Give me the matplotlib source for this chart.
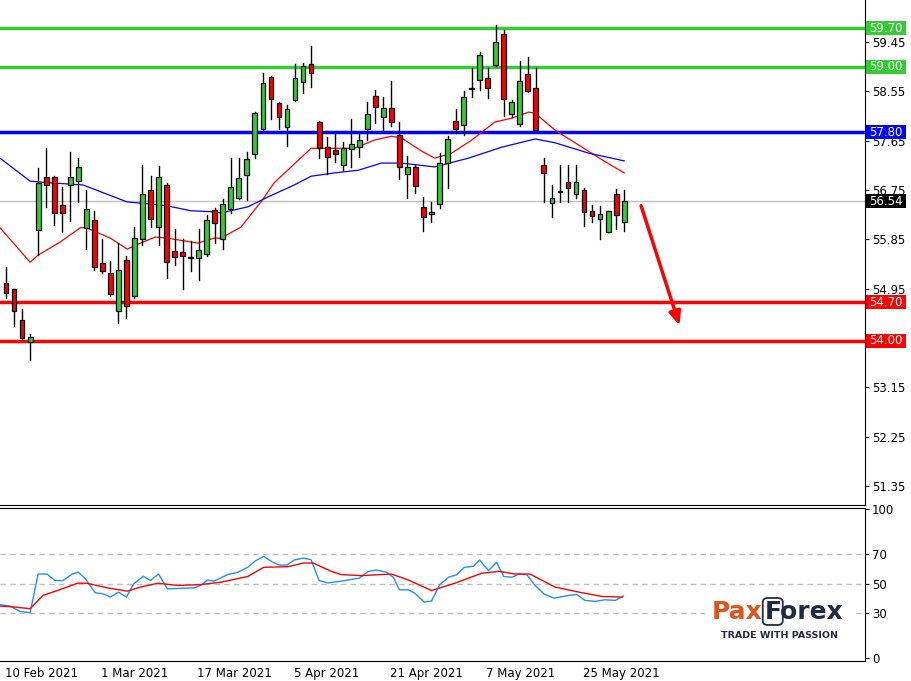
import matplotlib
matplotlib.use("Agg")
import matplotlib.pyplot as plt
from matplotlib.patches import Rectangle, FancyBboxPatch
from matplotlib.transforms import blended_transform_factory

# ── candles (open, high, low, close), one per trading day from 10 Feb 2021 ──
opens  = [55.05, 54.94, 54.38, 53.97, 56.02, 56.99, 56.99, 56.48, 56.84, 56.91,
          56.06, 56.20, 55.42, 55.23, 54.54, 55.47, 54.81, 55.85, 56.75, 56.07,
          56.84, 55.64, 55.62, 55.51, 55.51, 55.58, 56.38, 55.85, 56.40, 56.60,
          57.02, 57.41, 57.86, 58.81, 58.34, 57.90, 58.39, 58.72, 59.05, 57.99,
          57.53, 57.48, 57.20, 57.50, 57.53, 57.86, 58.46, 58.08, 58.25, 57.75,
          57.04, 57.17, 56.44, 56.31, 56.49, 57.24, 58.01, 57.94, 58.59, 58.76,
          58.79, 59.03, 59.60, 58.13, 57.95, 58.87, 58.61, 57.20, 56.51, 56.71,
          56.89, 56.67, 56.75, 56.37, 56.22, 55.98, 56.68, 56.17]
highs  = [55.34, 54.94, 54.58, 54.12, 57.15, 57.51, 57.00, 56.80, 57.44, 57.33,
          56.75, 56.37, 55.85, 55.45, 55.78, 55.54, 56.07, 57.20, 57.00, 57.19,
          56.87, 56.04, 55.85, 55.82, 56.04, 56.29, 56.42, 56.58, 57.33, 57.33,
          57.44, 58.17, 58.88, 58.83, 58.35, 58.30, 59.05, 59.07, 59.38, 58.00,
          57.72, 57.79, 57.62, 58.04, 57.79, 58.35, 58.57, 58.45, 58.74, 57.99,
          57.37, 57.20, 56.62, 56.53, 57.42, 57.73, 58.23, 58.56, 58.97, 59.27,
          58.97, 59.76, 59.67, 58.39, 59.10, 59.18, 58.97, 57.33, 56.84, 57.20,
          57.20, 57.20, 56.79, 56.48, 56.46, 56.37, 56.77, 56.75]
lows   = [54.78, 54.27, 54.03, 53.65, 55.56, 56.44, 56.11, 55.98, 56.18, 56.53,
          55.67, 55.29, 55.23, 54.81, 54.32, 54.41, 54.78, 55.75, 56.07, 55.75,
          55.14, 55.38, 54.94, 55.27, 55.11, 55.54, 55.78, 55.67, 56.33, 56.58,
          56.57, 57.33, 57.84, 58.04, 57.86, 57.55, 58.37, 58.52, 58.63, 57.33,
          57.04, 57.26, 57.11, 57.17, 57.35, 57.66, 57.97, 57.84, 57.92, 56.95,
          56.60, 56.69, 56.00, 56.17, 56.42, 56.79, 57.79, 57.75, 58.45, 58.57,
          58.43, 59.01, 58.10, 58.08, 57.92, 58.54, 57.84, 56.53, 56.26, 56.53,
          56.53, 56.60, 56.09, 56.17, 55.85, 55.98, 56.04, 56.00]
closes = [54.87, 54.54, 54.05, 54.07, 56.88, 56.84, 56.33, 56.33, 56.99, 57.17,
          56.40, 55.34, 55.27, 54.85, 55.29, 54.63, 55.87, 56.68, 56.22, 56.99,
          55.43, 55.53, 55.55, 55.53, 55.65, 56.20, 56.15, 56.49, 56.80, 56.97,
          57.31, 58.15, 58.70, 58.41, 58.08, 58.23, 58.79, 59.01, 58.88, 57.52,
          57.35, 57.41, 57.52, 57.59, 57.66, 58.13, 58.26, 58.25, 57.99, 57.17,
          57.17, 56.82, 56.26, 56.35, 57.24, 57.68, 57.86, 58.45, 58.60, 59.21,
          58.61, 59.45, 58.41, 58.35, 58.74, 58.56, 57.84, 57.06, 56.60, 56.72,
          56.79, 56.89, 56.35, 56.27, 56.31, 56.37, 56.29, 56.55]

# moving averages (bar index, price)
ma_fast_x = [-0.75, 3, 4, 6.75, 9.25, 10, 13, 15.1, 16.75, 18.6, 20.1, 23.9, 25.9,
             26.75, 29.25, 31.75, 33.4, 38, 40.1, 43.4, 45.9, 48, 49.25, 51.75,
             53.4, 55.5, 58, 60.9, 63, 65.1, 65.9, 68.4, 71.75, 74.25, 77]
ma_fast_y = [56.06, 55.43, 55.56, 55.80, 56.06, 56.06, 55.87, 55.67, 55.78, 55.89,
             55.87, 55.78, 55.87, 55.87, 56.07, 56.53, 56.88, 57.51, 57.51, 57.51,
             57.66, 57.73, 57.70, 57.46, 57.33, 57.42, 57.66, 57.99, 58.06, 58.17,
             58.15, 57.84, 57.53, 57.30, 57.06]
ma_slow_x = [-0.75, 3, 5.5, 9.6, 15.1, 16.75, 20.1, 23, 25.9, 26.75, 30.1, 32.6,
             35.9, 38, 40.9, 43.9, 46.75, 49.25, 53.4, 57.6, 61.75, 65.9, 68.4,
             72.6, 77]
ma_slow_y = [57.33, 56.91, 56.88, 56.84, 56.53, 56.51, 56.46, 56.37, 56.35, 56.33,
             56.44, 56.62, 56.84, 57.00, 57.06, 57.11, 57.24, 57.24, 57.17, 57.33,
             57.53, 57.68, 57.61, 57.42, 57.28]

# oscillator panel
osc_x = [-0.75, 0.5, 1.75, 3, 4, 5.1, 6.1, 7.1, 8.25, 9, 9.9, 11.1, 12.1, 13, 14,
         15, 15.9, 17.1, 18, 19, 20.1, 23.4, 24.25, 25.1, 25.9, 27.6, 28.9, 30.1,
         31.1, 32.1, 33.25, 34, 35, 35.9, 37, 38, 39, 40.1, 41.75, 44, 45.1, 46.1,
         47.4, 48.25, 49, 50.1, 50.9, 52.1, 53, 54, 55.1, 56.1, 57.1, 58.25, 59,
         60.1, 61.1, 62, 63, 63.9, 64.9, 65.9, 67.1, 68.25, 70.1, 71.1, 72.1, 73.4,
         74.6, 75.9, 76.9]
osc_y = [35.8, 34.9, 31.3, 30.4, 56.4, 56.4, 52, 52, 56.4, 57.6, 53.1, 43.8, 43.1,
         40.9, 44.2, 40.9, 49.8, 54.9, 52, 56.4, 46.4, 47.1, 48.7, 52.4, 51.6, 56,
         57.6, 60.9, 65.3, 68.2, 64.2, 62.4, 62.4, 65.8, 67.1, 66, 52, 50.4, 51.6,
         53.6, 58, 59.1, 57.6, 54.2, 45.8, 45.8, 43.6, 37.6, 38.2, 49.1, 54.2, 55.8,
         60.9, 61.6, 65.8, 58.7, 64.2, 54.7, 54.2, 56.4, 55.8, 48.7, 42.7, 40.2, 42,
         42.7, 38.7, 38, 39.1, 38.7, 41.6]
sig_x = [-0.75, 1.1, 3, 4.6, 6.4, 8.9, 10.1, 12.6, 15.1, 16.75, 18.9, 21.4, 24.25,
         26.75, 30.1, 32.1, 35.1, 37.1, 38.25, 40.5, 41.75, 44.25, 48, 50.1, 53,
         55.9, 59.25, 61.4, 63.4, 65.25, 68.4, 71.4, 74.25, 76.75]
sig_y = [34.9, 34.2, 33.1, 42, 45.3, 50.2, 50.2, 47.1, 44.9, 47.6, 50.2, 48.7, 49.3,
         50.9, 54.7, 60.9, 61.3, 63.8, 63.8, 58.2, 56, 55.3, 56.4, 52.4, 45.3, 50.2,
         56.9, 58.2, 56.4, 56.4, 47.6, 44.2, 41.3, 40.9]

levels = [59.70, 59.00, 57.80, 54.70, 54.00]
level_colors = ["#32cd32", "#32cd32", "#0000ff", "#ff0000", "#ff0000"]
last_price = 56.54
price_ticks = [59.45, 58.55, 57.65, 56.75, 55.85, 54.95, 54.05, 53.15, 52.25, 51.35]
osc_ticks = [100, 70, 50, 30, 0]
date_idx = [0, 12, 24, 36, 48, 60, 72]
date_labels = ["10 Feb 2021", "1 Mar 2021", "17 Mar 2021", "5 Apr 2021",
               "21 Apr 2021", "7 May 2021", "25 May 2021"]
arrow_from = (79, 56.51)
arrow_to = (84, 54.23)

W, H = 912, 681
fig = plt.figure(figsize=(W / 100, H / 100), dpi=100)
ax = fig.add_axes([0, 1 - 505 / H, 865 / W, 505 / H])
ax2 = fig.add_axes([0, 1 - 661 / H, 865 / W, 153 / H])
xlim = (-0.75, 107)

# ── price panel ──────────────────────────────────────────────────────────────
for y, c in zip(levels, level_colors):
    ax.axhline(y, color=c, lw=2.5, zorder=1)
ax.axhline(last_price, color="#c0c0c0", lw=1, zorder=1)
ax.plot(ma_fast_x, ma_fast_y, color="red", lw=0.9, zorder=2)
ax.plot(ma_slow_x, ma_slow_y, color="blue", lw=0.9, zorder=2)

for i, (o, h, l, c) in enumerate(zip(opens, highs, lows, closes)):
    ax.plot([i, i], [l, h], color="black", lw=1, zorder=3)
    col = "#32cd32" if c >= o else "#ff0000"
    ax.add_patch(Rectangle((i - 0.3, min(o, c)), 0.6, max(abs(c - o), 0.02),
                           facecolor=col, edgecolor="black", lw=0.9, zorder=4))

ax.annotate("", xy=arrow_to, xytext=arrow_from,
            arrowprops=dict(arrowstyle="-|>,head_length=0.8,head_width=0.35",
                            color="#ff0000", lw=2.5))

ax.set_xlim(*xlim)
ax.set_ylim(51.0, 60.216)
ax.set_xticks([])
ax.yaxis.tick_right()
ax.set_yticks(price_ticks)
ax.set_yticklabels([f"{t:.2f}" for t in price_ticks], fontsize=8.5)
ax.tick_params(axis="y", length=3, pad=2)
for s in ["top", "left"]:
    ax.spines[s].set_visible(False)

# value boxes on the price scale
tr = blended_transform_factory(ax.transAxes, ax.transData)
box_w = 40 / 865
box_h = 14 / 54.8
for y, c in zip(levels + [last_price], level_colors + ["black"]):
    ax.add_patch(Rectangle((1.0 + 1 / 865, y - box_h / 2), box_w, box_h,
                           transform=tr, facecolor=c, edgecolor="none",
                           clip_on=False, zorder=10))
    ax.text(1.0 + 4 / 865, y, f"{y:.2f}", transform=tr, va="center", ha="left",
            fontsize=8.5, color="white", zorder=11, clip_on=False)

# ── oscillator panel ─────────────────────────────────────────────────────────
for t in [70, 50, 30]:
    ax2.axhline(t, color="#c0c0c0", lw=1, ls=(0, (4, 3)))
ax2.plot(osc_x, osc_y, color="#1e90ff", lw=1)
ax2.plot(sig_x, sig_y, color="red", lw=1)
ax2.set_xlim(*xlim)
ax2.set_ylim(-2, 100.7)
ax2.set_xticks([])
ax2.yaxis.tick_right()
ax2.set_yticks(osc_ticks)
ax2.set_yticklabels([str(t) for t in osc_ticks], fontsize=8.5)
ax2.tick_params(axis="y", length=3, pad=2)
ax2.spines["left"].set_visible(False)

for i, lab in zip(date_idx, date_labels):
    ax2.annotate(lab, xy=(i, 0), xycoords=("data", "axes fraction"),
                 xytext=(-1, -4), textcoords="offset points", ha="left", va="top",
                 fontsize=8.5, annotation_clip=False)

# ── logo ─────────────────────────────────────────────────────────────────────
fig.patches.append(Rectangle((705 / W, 1 - 645 / H), 150 / W, 52 / H,
                             transform=fig.transFigure, facecolor="white",
                             edgecolor="none", zorder=5))
t1 = fig.text(712 / W, 1 - 612 / H, "Pax", fontsize=18, color="#e0541c",
              va="center", ha="left", fontweight="bold", zorder=7)
fig.canvas.draw()
bb = t1.get_window_extent()
fx = bb.x1 + 2
fig.patches.append(FancyBboxPatch(((fx - 2) / W, 1 - 625 / H), 20 / W, 27 / H,
                                  boxstyle="round,pad=0,rounding_size=0.006",
                                  transform=fig.transFigure, facecolor="none",
                                  edgecolor="#1f2a44", lw=1.3, zorder=6))
fig.text(fx / W, 1 - 612 / H, "Forex", fontsize=18, color="#1f2a44",
         va="center", ha="left", fontweight="bold", zorder=7)
fig.text(780 / W, 1 - 636 / H, "TRADE WITH PASSION", fontsize=6.8, color="#1f2a44",
         va="center", ha="center", fontweight="bold", zorder=7)

fig.savefig("out.png", dpi=100)
